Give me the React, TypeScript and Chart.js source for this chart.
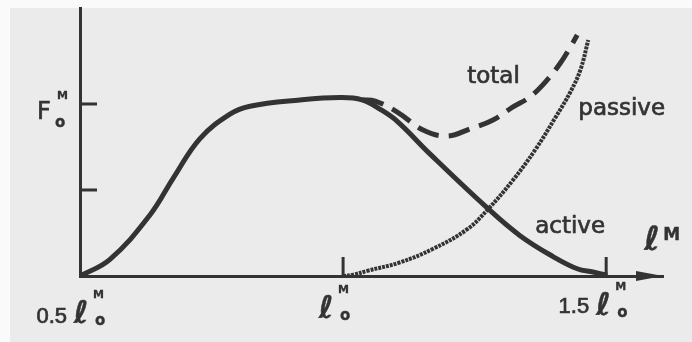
import { useEffect, useRef } from 'react';
import { Chart, registerables } from 'chart.js';

Chart.register(...registerables);

// Normalised fibre length (ℓM / ℓoM) and normalised force (FM / FoM)
const activeLength = [0.5, 0.557, 0.633, 0.677, 0.728, 0.785, 0.823, 0.918, 0.994, 1.036, 1.07, 1.103, 1.165, 1.276, 1.337, 1.399, 1.445, 1.475, 1.502];
const activeForce = [0, 0.097, 0.355, 0.568, 0.799, 0.941, 0.987, 1.023, 1.037, 1.024, 0.97, 0.899, 0.71, 0.39, 0.233, 0.113, 0.042, 0.023, 0.005];

const passiveLength = [1.0, 1.02, 1.046, 1.108, 1.171, 1.236, 1.276, 1.323, 1.365, 1.403, 1.432, 1.451, 1.466];
const passiveForce = [0, 0.008, 0.03, 0.079, 0.158, 0.272, 0.39, 0.558, 0.733, 0.919, 1.07, 1.198, 1.372];

const totalLength = [1.036, 1.061, 1.103, 1.152, 1.198, 1.241, 1.285, 1.323, 1.355, 1.388, 1.413, 1.432, 1.445];
const totalForce = [1.024, 1.017, 0.953, 0.849, 0.814, 0.855, 0.907, 0.983, 1.041, 1.14, 1.238, 1.331, 1.401];

const yTickValues = [0.5, 1.0];
const xTickValues = [1.0, 1.5];
const xMin = 0.5;
const xMax = 1.608;
const yMax = 1.558;

const INK = '#333333';
const PAPER = '#ebebeb';

const curveLabels = [
  { text: 'total', x: 1.236, y: 1.122 },
  { text: 'passive', x: 1.447, y: 0.936 },
  { text: 'active', x: 1.365, y: 0.25 },
];

const toPoints = (xs: number[], ys: number[]) => xs.map((x, i) => ({ x, y: ys[i] }));

const paperPlugin = {
  id: 'paper',
  beforeDraw(chart: any) {
    const { ctx, width, height } = chart;
    ctx.save();
    ctx.fillStyle = '#fafafa';
    ctx.fillRect(0, 0, width, height);
    ctx.fillStyle = PAPER;
    ctx.fillRect(10, 8, width - 10, height - 8);
    ctx.restore();
  },
};

// text with a slightly heavier stroke, like printed type
function inkText(ctx: CanvasRenderingContext2D, text: string, x: number, y: number, weight = 0.7) {
  ctx.lineWidth = weight;
  ctx.fillText(text, x, y);
  ctx.strokeText(text, x, y);
}

// ℓ with a superscript M and subscript o
function drawLengthSymbol(ctx: CanvasRenderingContext2D, x: number, baseline: number) {
  ctx.font = 'italic bold 31px "DejaVu Sans"';
  inkText(ctx, 'ℓ', x - 3, baseline, 0.5);
  ctx.font = 'bold 11px "DejaVu Sans"';
  inkText(ctx, 'M', x + 16, baseline - 25, 0.3);
  ctx.font = 'bold 15px "DejaVu Sans"';
  inkText(ctx, 'o', x + 18, baseline + 2, 0.3);
}

const axisDecorPlugin = {
  id: 'axisDecor',
  afterDraw(chart: any) {
    const { ctx, chartArea, scales } = chart;
    const xs = scales.x;
    const ys = scales.y;
    const y0 = ys.getPixelForValue(0);
    const left = xs.getPixelForValue(xMin);

    ctx.save();
    ctx.strokeStyle = INK;
    ctx.fillStyle = INK;
    ctx.lineWidth = 3;
    ctx.lineCap = 'butt';

    // inward tick marks
    yTickValues.forEach((v) => {
      const y = ys.getPixelForValue(v);
      ctx.beginPath();
      ctx.moveTo(left, y);
      ctx.lineTo(left + 17, y);
      ctx.stroke();
    });
    xTickValues.forEach((v) => {
      const x = xs.getPixelForValue(v);
      ctx.beginPath();
      ctx.moveTo(x, y0);
      ctx.lineTo(x, y0 - 19);
      ctx.stroke();
    });

    // arrowhead on the length axis
    const tip = chartArea.right;
    ctx.beginPath();
    ctx.moveTo(tip, y0);
    ctx.lineTo(tip - 27, y0 - 5);
    ctx.lineTo(tip - 27, y0 + 5);
    ctx.closePath();
    ctx.fill();

    ctx.textBaseline = 'alphabetic';
    ctx.textAlign = 'left';

    // force axis label F with M and o
    const yF = ys.getPixelForValue(1.0);
    ctx.font = '24px "DejaVu Sans"';
    inkText(ctx, 'F', left - 43, yF + 15);
    ctx.font = 'bold 11px "DejaVu Sans"';
    inkText(ctx, 'M', left - 23, yF - 5, 0.3);
    ctx.font = 'bold 15px "DejaVu Sans"';
    inkText(ctx, 'o', left - 25, yF + 23, 0.3);

    // length tick labels
    const x05 = xs.getPixelForValue(0.5);
    const x10 = xs.getPixelForValue(1.0);
    const x15 = xs.getPixelForValue(1.5);
    ctx.font = '22px "Liberation Sans"';
    ctx.textAlign = 'right';
    inkText(ctx, '0.5', x05 - 13, y0 + 47);
    inkText(ctx, '1.5', x15 - 17, y0 + 37);
    ctx.textAlign = 'left';
    drawLengthSymbol(ctx, x05 - 3, y0 + 47);
    drawLengthSymbol(ctx, x10 - 21, y0 + 42);
    drawLengthSymbol(ctx, x15 - 7, y0 + 39);

    // length axis title ℓM
    const xT = xs.getPixelForValue(1.578);
    const yT = ys.getPixelForValue(0.151);
    ctx.font = 'italic bold 33px "DejaVu Sans"';
    inkText(ctx, 'ℓ', xT - 3, yT, 0.5);
    ctx.font = 'bold 17px "DejaVu Sans"';
    inkText(ctx, 'M', xT + 16, yT - 10, 0.4);

    // curve names
    ctx.font = '23px "DejaVu Sans"';
    curveLabels.forEach((l) => {
      inkText(ctx, l.text, xs.getPixelForValue(l.x), ys.getPixelForValue(l.y));
    });

    ctx.restore();
  },
};

export default function App() {
  const canvasRef = useRef<HTMLCanvasElement | null>(null);

  useEffect(() => {
    const canvas = canvasRef.current;
    if (!canvas) return;
    const chart = new Chart(canvas, {
      type: 'line',
      data: {
        datasets: [
          {
            label: 'active',
            data: toPoints(activeLength, activeForce),
            borderColor: INK,
            borderWidth: 5,
            tension: 0.4,
            pointRadius: 0,
            fill: false,
          },
          {
            label: 'passive',
            data: toPoints(passiveLength, passiveForce),
            borderColor: INK,
            borderWidth: 4,
            borderDash: [3, 1],
            tension: 0.4,
            pointRadius: 0,
            fill: false,
          },
          {
            label: 'total',
            data: toPoints(totalLength, totalForce),
            borderColor: INK,
            borderWidth: 5,
            borderDash: [22, 10],
            tension: 0.4,
            pointRadius: 0,
            fill: false,
          },
        ],
      },
      options: {
        animation: false,
        responsive: false,
        devicePixelRatio: 1,
        layout: { padding: { left: 80, right: 29, top: 8, bottom: 66 } },
        plugins: { legend: { display: false }, tooltip: { enabled: false } },
        elements: { point: { radius: 0 } },
        scales: {
          x: {
            type: 'linear',
            min: xMin,
            max: xMax,
            grid: { display: false, drawTicks: false },
            ticks: { display: false },
            border: { display: true, color: INK, width: 3 },
          },
          y: {
            type: 'linear',
            min: 0,
            max: yMax,
            grid: { display: false, drawTicks: false },
            ticks: { display: false },
            border: { display: true, color: INK, width: 3 },
          },
        },
      },
      plugins: [paperPlugin, axisDecorPlugin],
    });
    return () => chart.destroy();
  }, []);

  return (
    <div style={{ position: 'fixed', left: 0, top: 0, width: 692, height: 342, background: '#fff' }}>
      <canvas ref={canvasRef} width={692} height={342} style={{ display: 'block', width: 692, height: 342 }} />
    </div>
  );
}
